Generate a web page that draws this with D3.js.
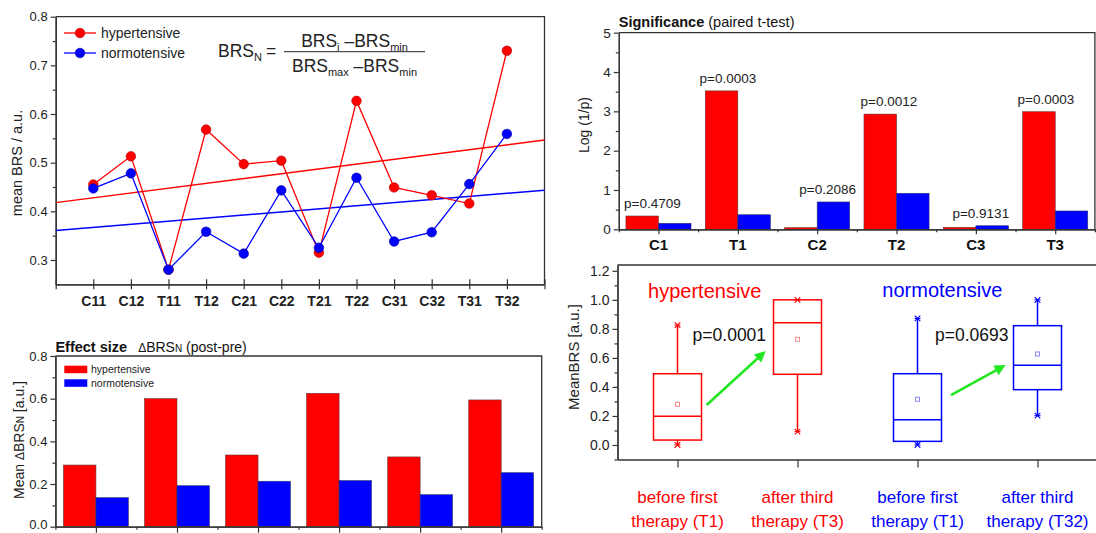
<!DOCTYPE html>
<html><head><meta charset="utf-8">
<script src="https://cdn.jsdelivr.net/npm/d3@7"></script>
<style>
body{margin:0;background:#fff}
svg{display:block}
text{font-family:"Liberation Sans",Arial,Helvetica,sans-serif}
</style>
</head><body>
<svg id="c" width="1096" height="533"></svg>
<script>
// ---------------- DATA ----------------
const brsCategories = ["C11","C12","T11","T12","C21","C22","T21","T22","C31","C32","T31","T32"];
const brsHyper = [0.455,0.513,0.280,0.568,0.497,0.504,0.315,0.627,0.449,0.433,0.416,0.730];
const brsNormo = [0.447,0.478,0.280,0.358,0.313,0.443,0.325,0.469,0.338,0.357,0.456,0.559];
const brsTicks = [0.3,0.4,0.5,0.6,0.7,0.8];

const effectGroups = [1,2,3,4,5,6];
const effectHyper = [0.289,0.600,0.336,0.625,0.327,0.594];
const effectNormo = [0.136,0.192,0.213,0.216,0.150,0.253];
const effectTicks = [0,0.2,0.4,0.6,0.8];

const sigCategories = ["C1","T1","C2","T2","C3","T3"];
const sigHyper = [0.338,3.52,0.04,2.93,0.05,2.99];
const sigNormo = [0.153,0.37,0.695,0.916,0.09,0.466];
const sigLabels = ["p=0.4709","p=0.0003","p=0.2086","p=0.0012","p=0.9131","p=0.0003"];
const sigTicks = [0,1,2,3,4,5];

const boxLabels = [["before first","therapy (T1)"],["after third","therapy (T3)"],["before first","therapy (T1)"],["after third","therapy (T32)"]];
const boxGroup = ["hypertensive","hypertensive","normotensive","normotensive"];
const boxMin = [0.0,0.092,0.0,0.202];
const boxQ1 = [0.034,0.487,0.025,0.381];
const boxMedian = [0.198,0.842,0.174,0.549];
const boxQ3 = [0.491,1.0,0.491,0.822];
const boxMax = [0.826,1.0,0.872,1.0];
const boxMean = [0.28,0.728,0.315,0.627];
const boxTicks = [0,0.2,0.4,0.6,0.8,1.0,1.2];
const boxP = ["p=0.0001","p=0.0693"];

// ---------------- STYLE ----------------
const RED = "#ff0000", BLUE = "#0000ff", GREEN = "#22e622";
const AX = "#333";
const FONT = '"Liberation Sans",Arial,Helvetica,sans-serif';
const svg = d3.select("#c");
svg.append("rect").attr("width",1096).attr("height",533).attr("fill","#fff");

function styleAxis(g, fs, bold){
  g.attr("font-family", FONT).attr("font-size", fs||12);
  g.selectAll("path.domain").attr("stroke", AX).attr("stroke-width", 1.3);
  g.selectAll(".tick line").attr("stroke", AX).attr("stroke-width", 1.2);
  g.selectAll(".tick text").attr("fill", "#222").attr("font-weight", bold ? "bold" : "normal");
}
function frame(g, x0, x1, y0, y1){
  g.append("path").attr("d", `M${x0},${y1}H${x1}V${y0}`)
    .attr("fill","none").attr("stroke",AX).attr("stroke-width",1.3);
}

// ================= TOP-LEFT: mean BRS =================
{
  const x = d3.scaleLinear([0,13],[55.7,544.5]);
  const y = d3.scaleLinear([0.25,0.8],[284.3,16.7]);
  const g = svg.append("g");
  frame(g, x(0), x(13), y(0.25), y(0.8));
  g.append("g").attr("transform",`translate(${x(0)},0)`)
    .call(d3.axisLeft(y).tickValues([0.35,0.45,0.55,0.65,0.75]).tickSize(3).tickSizeOuter(0).tickFormat(""))
    .call(s=>styleAxis(s));
  g.append("g").attr("transform",`translate(${x(0)},0)`)
    .call(d3.axisLeft(y).tickValues(brsTicks).tickSize(5).tickSizeOuter(0).tickPadding(3).tickFormat(d3.format(".1f")))
    .call(s=>styleAxis(s,13));
  g.append("g").attr("transform",`translate(0,${y(0.25)})`)
    .call(d3.axisBottom(x).tickValues(d3.range(0,14)).tickSize(5).tickSizeOuter(0).tickPadding(7)
      .tickFormat(i => brsCategories[i-1] || ""))
    .call(s=>styleAxis(s,14,true));
  g.append("g").attr("transform",`translate(0,${y(0.25)})`)
    .call(d3.axisBottom(x).tickValues(d3.range(0,14)).tickSize(-5).tickSizeOuter(0).tickFormat(""))
    .call(s=>styleAxis(s));

  // linear fits
  function fit(vals){
    const xs = vals.map((_,i)=>i+1);
    const mx = d3.mean(xs), my = d3.mean(vals);
    const b = d3.sum(xs,(v,i)=>(v-mx)*(vals[i]-my)) / d3.sum(xs,v=>(v-mx)*(v-mx));
    return t => my + b*(t-mx);
  }
  [[brsHyper,RED],[brsNormo,BLUE]].forEach(([vals,col])=>{
    const f = fit(vals);
    g.append("line").attr("x1",x(0)).attr("y1",y(f(0))).attr("x2",x(13)).attr("y2",y(f(13)))
      .attr("stroke",col).attr("stroke-width",1.4);
  });
  const line = d3.line().x((d,i)=>x(i+1)).y(d=>y(d));
  [[brsHyper,RED,"#b00000"],[brsNormo,BLUE,"#0000a0"]].forEach(([vals,col,edge])=>{
    g.append("path").attr("d",line(vals)).attr("fill","none").attr("stroke",col).attr("stroke-width",1.3);
    g.selectAll(null).data(vals).join("circle")
      .attr("cx",(d,i)=>x(i+1)).attr("cy",d=>y(d)).attr("r",4.8)
      .attr("fill",col).attr("stroke",edge).attr("stroke-width",0.6);
  });
  // legend
  [["hypertensive",RED,"#b00000",33],["normotensive",BLUE,"#0000a0",53]].forEach(([t,col,edge,ly])=>{
    g.append("line").attr("x1",64).attr("x2",96).attr("y1",ly).attr("y2",ly).attr("stroke",col).attr("stroke-width",1.3);
    g.append("circle").attr("cx",80).attr("cy",ly).attr("r",4.8).attr("fill",col).attr("stroke",edge).attr("stroke-width",0.6);
    g.append("text").attr("x",101).attr("y",ly+5).attr("font-size",14).attr("fill","#222").text(t);
  });
  // formula
  const F = g.append("g").attr("fill","#222");
  const t1 = F.append("text").attr("x",218).attr("y",57.3).attr("font-size",17.5);
  t1.append("tspan").text("BRS");
  t1.append("tspan").attr("font-size",11).attr("dy",4).text("N");
  t1.append("tspan").attr("dy",-4).attr("dx",4).text("=");
  F.append("line").attr("x1",284).attr("x2",425).attr("y1",51.7).attr("y2",51.7).attr("stroke","#222").attr("stroke-width",1);
  const num = F.append("text").attr("x",354.5).attr("y",46.7).attr("font-size",17.5).attr("text-anchor","middle");
  num.append("tspan").text("BRS");
  num.append("tspan").attr("font-size",11).attr("dy",4).text("i");
  num.append("tspan").attr("dy",-4).text(" \u2013BRS");
  num.append("tspan").attr("font-size",11).attr("dy",4).text("min");
  const den = F.append("text").attr("x",354.5).attr("y",71.7).attr("font-size",17.5).attr("text-anchor","middle");
  den.append("tspan").text("BRS");
  den.append("tspan").attr("font-size",11).attr("dy",4).text("max");
  den.append("tspan").attr("dy",-4).text(" \u2013BRS");
  den.append("tspan").attr("font-size",11).attr("dy",4).text("min");
  // y label
  g.append("text").attr("transform","translate(21.5,163) rotate(-90)").attr("text-anchor","middle")
    .attr("font-size",14.5).attr("fill","#222").text("mean BRS / a.u.");
}

// ================= BOTTOM-LEFT: effect size =================
{
  const xb = d3.scaleBand(effectGroups,[55.4,541.7]);
  const bw = xb.bandwidth();
  const xl = d3.scaleLinear([0,effectGroups.length],[55.4,541.7]);
  const y = d3.scaleLinear([0,0.8],[526.7,356]);
  const g = svg.append("g");
  const barW = bw*0.4;
  g.selectAll(null).data(effectGroups).join("rect")
    .attr("x",d=>xb(d)+bw/2-barW).attr("width",barW)
    .attr("y",(d,i)=>y(effectHyper[i])).attr("height",(d,i)=>y(0)-y(effectHyper[i]))
    .attr("fill",RED).attr("stroke","#6a3030").attr("stroke-width",0.6);
  g.selectAll(null).data(effectGroups).join("rect")
    .attr("x",d=>xb(d)+bw/2).attr("width",barW)
    .attr("y",(d,i)=>y(effectNormo[i])).attr("height",(d,i)=>y(0)-y(effectNormo[i]))
    .attr("fill",BLUE).attr("stroke","#30306a").attr("stroke-width",0.6);
  frame(g, xl(0), xl(6), y(0), y(0.8));
  g.append("g").attr("transform",`translate(${xl(0)},0)`)
    .call(d3.axisLeft(y).tickValues([0.1,0.3,0.5,0.7]).tickSize(3).tickSizeOuter(0).tickFormat(""))
    .call(s=>styleAxis(s));
  g.append("g").attr("transform",`translate(${xl(0)},0)`)
    .call(d3.axisLeft(y).tickValues(effectTicks).tickSize(5).tickSizeOuter(0).tickPadding(3).tickFormat(d3.format(".1f")))
    .call(s=>styleAxis(s,13))
    .call(s=>s.selectAll(".tick text").filter(d=>d===0).attr("dy","0.1em"));
  g.append("g").attr("transform",`translate(0,${y(0)})`)
    .call(d3.axisBottom(xl).tickValues(d3.range(0,7)).tickSize(3).tickSizeOuter(0).tickFormat(""))
    .call(s=>styleAxis(s));
  g.append("g").attr("transform",`translate(0,${y(0)})`)
    .call(d3.axisBottom(xl).tickValues(d3.range(0,6).map(k=>k+0.5)).tickSize(6).tickSizeOuter(0).tickFormat(""))
    .call(s=>styleAxis(s));
  // title
  const tt = g.append("text").attr("x",55.4).attr("y",351.7).attr("font-size",14.5).attr("fill","#111");
  tt.append("tspan").attr("font-weight","bold").text("Effect size");
  tt.append("tspan").attr("dx",11).attr("font-size",12).text("\u0394");
  tt.append("tspan").attr("font-size",14).text("BRS");
  tt.append("tspan").attr("font-size",10).text("N");
  tt.append("tspan").attr("font-size",14).text(" (post-pre)");
  // legend
  [["hypertensive",RED,365.7],["normotensive",BLUE,379.3]].forEach(([t,col,ly])=>{
    g.append("rect").attr("x",64.3).attr("y",ly).attr("width",23).attr("height",7.5).attr("fill",col);
    g.append("text").attr("x",91).attr("y",ly+7.3).attr("font-size",10.5).attr("fill","#222").text(t);
  });
  const yl = g.append("text").attr("transform","translate(24,440) rotate(-90)").attr("text-anchor","middle")
    .attr("font-size",14).attr("fill","#222");
  yl.append("tspan").text("Mean ");
  yl.append("tspan").attr("font-size",12).text("\u0394");
  yl.append("tspan").text("BRS");
  yl.append("tspan").attr("font-size",10).text("N");
  yl.append("tspan").text(" [a.u.]");
}

// ================= TOP-RIGHT: significance =================
{
  const xb = d3.scaleBand(sigCategories,[618.8,1094.9]);
  const bw = xb.bandwidth();
  const xl = d3.scaleLinear([0,sigCategories.length],[618.8,1094.9]);
  const y = d3.scaleLinear([0,5],[229.3,32.7]);
  const g = svg.append("g");
  const barW = bw*0.41;
  g.selectAll(null).data(sigCategories).join("rect")
    .attr("x",d=>xb(d)+bw/2-barW).attr("width",barW)
    .attr("y",(d,i)=>y(sigHyper[i])).attr("height",(d,i)=>y(0)-y(sigHyper[i]))
    .attr("fill",RED).attr("stroke","#6a3030").attr("stroke-width",0.6);
  g.selectAll(null).data(sigCategories).join("rect")
    .attr("x",d=>xb(d)+bw/2).attr("width",barW)
    .attr("y",(d,i)=>y(sigNormo[i])).attr("height",(d,i)=>y(0)-y(sigNormo[i]))
    .attr("fill",BLUE).attr("stroke","#30306a").attr("stroke-width",0.6);
  frame(g, xl(0), xl(6), y(0), y(5));
  g.append("g").attr("transform",`translate(${xl(0)},0)`)
    .call(d3.axisLeft(y).tickValues([0.5,1.5,2.5,3.5,4.5]).tickSize(3).tickSizeOuter(0).tickFormat(""))
    .call(s=>styleAxis(s));
  g.append("g").attr("transform",`translate(${xl(0)},0)`)
    .call(d3.axisLeft(y).tickValues(sigTicks).tickSize(5).tickSizeOuter(0).tickPadding(3).tickFormat(d3.format("d")))
    .call(s=>styleAxis(s,13.5));
  g.append("g").attr("transform",`translate(0,${y(0)})`)
    .call(d3.axisBottom(xl).tickValues(d3.range(0,7)).tickSize(3).tickSizeOuter(0).tickFormat(""))
    .call(s=>styleAxis(s));
  g.append("g").attr("transform",`translate(0,${y(0)})`)
    .call(d3.axisBottom(xl).tickValues(d3.range(0,6).map(k=>k+0.5)).tickSize(5).tickSizeOuter(0).tickFormat(""))
    .call(s=>styleAxis(s));
  g.selectAll(null).data(sigCategories).join("text")
    .attr("x",d=>xb(d)+bw/2).attr("y",250).attr("text-anchor","middle")
    .attr("font-size",15).attr("font-weight","bold").attr("fill","#111").text(d=>d);
  // p labels, leaning toward the taller bar
  g.selectAll(null).data(sigCategories).join("text")
    .attr("x",(d,i)=>{
      const hi = Math.max(sigHyper[i],sigNormo[i]), lo = Math.min(sigHyper[i],sigNormo[i]);
      const s = sigHyper[i] >= sigNormo[i] ? -1 : 1;
      return xb(d)+bw/2 + s*bw*0.14*(1-lo/hi);
    })
    .attr("y",(d,i)=>y(Math.max(sigHyper[i],sigNormo[i]))-8)
    .attr("text-anchor","middle").attr("font-size",13.5).attr("fill","#222")
    .text((d,i)=>sigLabels[i]);
  const tt = g.append("text").attr("x",618.8).attr("y",26.7).attr("font-size",14.5).attr("fill","#111");
  tt.append("tspan").attr("font-weight","bold").text("Significance");
  tt.append("tspan").text(" (paired t-test)");
  g.append("text").attr("transform","translate(589,125) rotate(-90)").attr("text-anchor","middle")
    .attr("font-size",14).attr("fill","#222").text("Log (1/p)");
}

// ================= BOTTOM-RIGHT: box plot =================
{
  const x = d3.scaleLinear([0.5,4.5],[617.5,1097.5]);
  const y = d3.scaleLinear([-0.1,1.24],[459.5,265]);
  const g = svg.append("g");
  frame(g, x(0.5), x(4.5), y(-0.1), y(1.24));
  g.append("g").attr("transform",`translate(${x(0.5)},0)`)
    .call(d3.axisLeft(y).tickValues([-0.1,0.1,0.3,0.5,0.7,0.9,1.1]).tickSize(3).tickSizeOuter(0).tickFormat(""))
    .call(s=>styleAxis(s));
  g.append("g").attr("transform",`translate(${x(0.5)},0)`)
    .call(d3.axisLeft(y).tickValues(boxTicks).tickSize(5).tickSizeOuter(0).tickPadding(3).tickFormat(d3.format(".1f")))
    .call(s=>styleAxis(s,14));
  g.append("g").attr("transform",`translate(0,${y(-0.1)})`)
    .call(d3.axisBottom(x).tickValues([1,2,3,4]).tickSize(8).tickSizeOuter(0).tickFormat(""))
    .call(s=>styleAxis(s));

  const colOf = i => boxGroup[i]==="hypertensive" ? RED : BLUE;
  const meanCol = i => boxGroup[i]==="hypertensive" ? "#f08a8a" : "#8a8af0";
  const half = x(1.2)-x(1);
  boxGroup.forEach((grp,i)=>{
    const cx = x(i+1), c = colOf(i);
    g.append("line").attr("x1",cx).attr("x2",cx).attr("y1",y(boxQ3[i])).attr("y2",y(boxMax[i])).attr("stroke",c).attr("stroke-width",1.5);
    g.append("line").attr("x1",cx).attr("x2",cx).attr("y1",y(boxQ1[i])).attr("y2",y(boxMin[i])).attr("stroke",c).attr("stroke-width",1.5);
    g.append("rect").attr("x",cx-half).attr("width",2*half).attr("y",y(boxQ3[i])).attr("height",y(boxQ1[i])-y(boxQ3[i]))
      .attr("fill","none").attr("stroke",c).attr("stroke-width",1.5);
    g.append("line").attr("x1",cx-half).attr("x2",cx+half).attr("y1",y(boxMedian[i])).attr("y2",y(boxMedian[i])).attr("stroke",c).attr("stroke-width",1.5);
    [boxMin[i],boxMax[i]].forEach(v=>{
      g.append("path").attr("d",d3.symbol(d3.symbolTimes,22)()).attr("transform",`translate(${cx},${y(v)})`)
        .attr("fill","none").attr("stroke",c).attr("stroke-width",1.1);
      g.append("line").attr("x1",cx-3).attr("x2",cx+3).attr("y1",y(v)).attr("y2",y(v)).attr("stroke",c).attr("stroke-width",1.1);
    });
    g.append("rect").attr("x",cx-2).attr("y",y(boxMean[i])-2).attr("width",4).attr("height",4)
      .attr("fill","none").attr("stroke",meanCol(i)).attr("stroke-width",1);
    boxLabels[i].forEach((t,k)=>{
      g.append("text").attr("x",cx).attr("y",503+k*24).attr("text-anchor","middle")
        .attr("font-size",17).attr("fill",c).text(t);
    });
  });
  // group titles
  g.append("text").attr("x",x(0.755)).attr("y",297.7).attr("font-size",20).attr("fill",RED).text("hypertensive");
  g.append("text").attr("x",x(2.707)).attr("y",297).attr("font-size",20).attr("fill",BLUE).text("normotensive");
  // p values
  [[boxP[0],1.126],[boxP[1],3.146]].forEach(([t,xv])=>{
    g.append("text").attr("x",x(xv)).attr("y",y(0.713)).attr("font-size",17.5).attr("fill","#111").text(t);
  });
  // arrows
  const arrows = [[[1.243,0.275],[1.735,0.647]],[[3.279,0.344],[3.734,0.551]]];
  arrows.forEach(([a,b])=>{
    const x0=x(a[0]), y0=y(a[1]), x1=x(b[0]), y1=y(b[1]);
    const dx=x1-x0, dy=y1-y0, L=Math.hypot(dx,dy), ux=dx/L, uy=dy/L;
    const hl=11, hw=5.5;
    const bx=x1-ux*hl, by=y1-uy*hl;
    g.append("line").attr("x1",x0).attr("y1",y0).attr("x2",bx+ux).attr("y2",by+uy)
      .attr("stroke",GREEN).attr("stroke-width",2.6);
    g.append("path").attr("d",`M${x1},${y1}L${bx-uy*hw},${by+ux*hw}L${bx+uy*hw},${by-ux*hw}Z`).attr("fill",GREEN);
  });
  g.append("text").attr("transform","translate(579,357) rotate(-90)").attr("text-anchor","middle")
    .attr("font-size",15).attr("fill","#222").text("MeanBRS [a.u.]");
}
</script>
</body></html>
